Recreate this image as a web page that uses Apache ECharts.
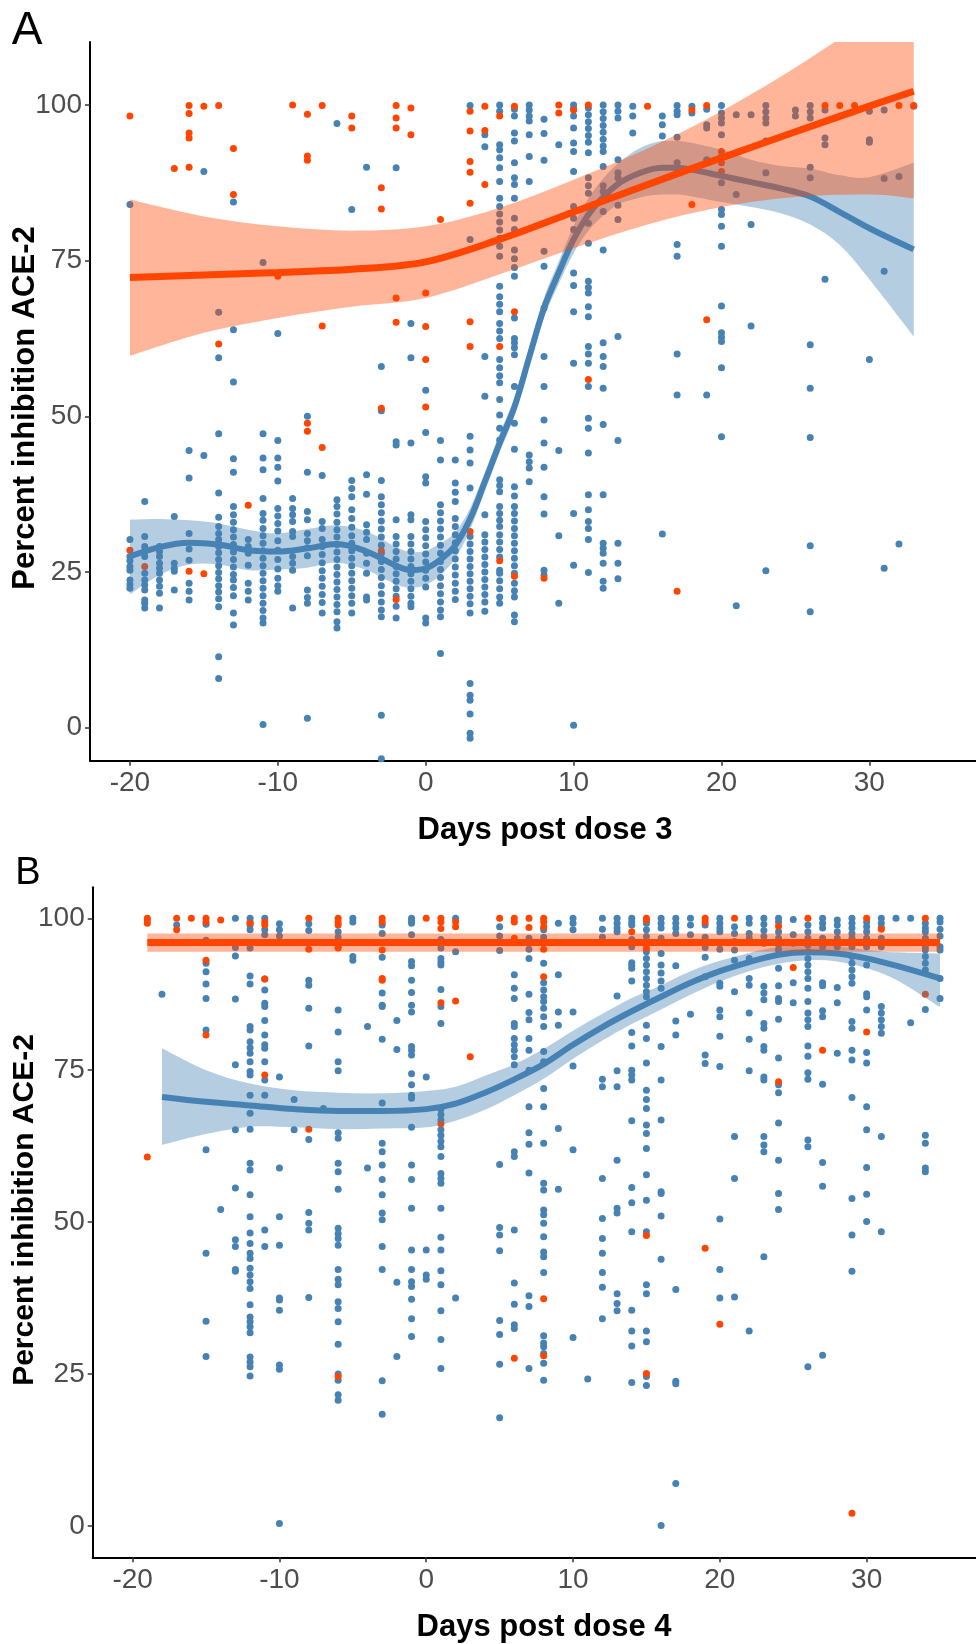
<!DOCTYPE html>
<html>
<head>
<meta charset="utf-8">
<style>
  html, body { margin: 0; padding: 0; background: #ffffff; }
  #main { width: 976px; height: 1644px; }
</style>
<script src="https://cdn.jsdelivr.net/npm/echarts@6/dist/echarts.min.js"></script>
</head>
<body>
<div id="main"></div>
<script>
// Percent inhibition of ACE-2 binding, per sampling day: [day, [values...]]
// Panel A: days relative to dose 3
const dose3Blue = [
  [-20, [84.0, 30.2, 27.5, 26.8, 25.9, 25.3, 23.7, 23.0, 22.4]],
  [-19, [36.3, 30.7, 29.1, 28.3, 27.5, 24.8, 23.7, 22.9, 22.1, 20.5, 20.0, 19.2]],
  [-18, [29.1, 28.3, 27.5, 26.4, 25.6, 24.8, 23.7, 22.7, 21.6, 19.2]],
  [-17, [33.9, 26.4, 25.6, 25.1, 22.1]],
  [-16, [44.5, 40.1, 31.2, 28.7, 26.9, 23.2, 21.9, 20.5]],
  [-15, [89.3, 43.7]],
  [-14, [66.7, 59.4, 47.2, 37.7, 33.8, 32.3, 31.2, 30.2, 29.1, 28.1, 27.0, 26.0, 24.9, 23.9, 22.8, 21.8, 20.7, 19.4, 11.4, 7.9]],
  [-13, [84.4, 63.9, 55.5, 43.2, 41.0, 35.5, 34.2, 33.0, 31.8, 30.6, 29.4, 28.2, 27.0, 25.8, 24.6, 23.7, 22.5, 21.2, 18.4, 16.5]],
  [-12, [30.2, 29.1, 28.0, 26.1, 23.2, 21.9, 20.5]],
  [-11, [74.7, 47.2, 43.3, 41.4, 36.8, 34.4, 33.3, 32.0, 30.8, 29.6, 28.4, 27.2, 26.0, 24.8, 23.6, 22.4, 21.2, 20.0, 18.8, 17.6, 16.8, 0.5]],
  [-10, [63.3, 46.1, 43.3, 41.8, 39.6, 35.2, 34.0, 32.8, 31.6, 30.0, 28.5, 27.0, 25.5, 24.0, 22.8, 21.9]],
  [-9, [36.8, 35.2, 34.2, 33.1, 31.5, 30.7, 27.5, 26.4, 25.3, 19.2]],
  [-8, [50.0, 41.0, 34.7, 33.4, 31.2, 30.0, 28.9, 27.6, 22.1, 20.9, 20.0, 1.5]],
  [-7, [40.5, 33.1, 32.0, 30.2, 29.1, 27.8, 26.5, 25.2, 24.0, 22.7, 21.4, 20.1, 18.4]],
  [-6, [97.0, 36.6, 35.5, 34.3, 33.0, 31.8, 30.6, 29.4, 28.2, 27.0, 25.8, 24.6, 23.4, 22.2, 21.0, 19.8, 18.6, 17.0, 16.0]],
  [-5, [83.2, 39.7, 38.4, 37.1, 35.0, 33.6, 32.2, 30.8, 29.6, 28.4, 27.2, 26.0, 24.8, 23.6, 22.4, 21.2, 20.0, 18.4]],
  [-4, [90.0, 40.6, 37.5, 32.6, 31.4, 30.2, 28.0, 26.4, 24.8, 21.0, 20.5]],
  [-3, [58.0, 50.9, 39.7, 37.1, 35.8, 34.5, 33.2, 31.9, 30.6, 29.3, 28.0, 26.7, 25.4, 24.1, 22.8, 21.5, 20.2, 18.9, 17.8, 2.0, -5.0]],
  [-2, [89.9, 45.9, 45.4, 33.4, 30.7, 29.5, 28.3, 27.1, 25.9, 24.7, 23.5, 22.3, 21.1, 19.5, 17.6]],
  [-1, [64.9, 59.4, 45.7, 34.2, 33.4, 30.7, 29.5, 28.3, 27.1, 25.9, 24.7, 23.5, 22.3, 21.1, 20.0, 19.4]],
  [0, [54.2, 47.4, 40.3, 39.3, 33.1, 31.8, 30.5, 29.2, 27.9, 26.6, 25.3, 24.0, 22.6, 17.6, 16.8]],
  [1, [46.1, 43.0, 35.8, 34.5, 33.2, 31.9, 30.6, 29.3, 28.0, 26.7, 25.4, 24.1, 22.8, 21.5, 20.2, 18.9, 17.8, 11.9]],
  [2, [43.0, 39.3, 37.8, 36.3, 33.6, 32.3, 31.0, 29.7, 28.4, 27.1, 25.8, 24.5, 23.2, 21.9, 20.6]],
  [3, [99.9, 78.4, 46.8, 44.6, 42.5, 38.5, 30.7, 29.5, 28.3, 27.1, 25.9, 24.7, 23.5, 22.3, 21.1, 19.9, 18.4, 7.1, 5.2, 4.4, 2.2, -0.9, -1.7]],
  [4, [95.2, 93.3, 59.6, 53.2, 34.2, 31.0, 29.8, 28.6, 27.4, 26.2, 25.0, 23.8, 22.6, 21.4, 20.2, 18.7]],
  [5, [100.0, 99.0, 93.6, 92.8, 91.5, 89.9, 87.7, 85.0, 83.7, 82.5, 81.2, 79.9, 78.6, 77.3, 75.7, 70.9, 69.2, 68.0, 66.8, 64.9, 63.7, 62.5, 59.1, 57.8, 56.5, 55.4, 52.7, 50.2, 48.1, 46.2, 39.8, 38.9, 37.9, 35.5, 34.4, 33.3, 32.3, 31.0, 29.8, 28.6, 27.4, 25.3, 24.8, 23.6, 22.3, 21.0, 20.0]],
  [6, [99.3, 98.2, 95.5, 94.2, 90.7, 88.3, 87.2, 85.0, 81.8, 80.0, 76.7, 75.3, 73.9, 72.5, 65.8, 62.5, 61.8, 61.0, 59.9, 54.8, 48.9, 44.7, 38.7, 37.2, 35.5, 34.4, 33.2, 32.0, 30.8, 29.6, 28.4, 27.2, 26.0, 24.8, 23.2, 22.0, 21.0, 18.1, 17.0]],
  [7, [100.0, 99.2, 98.2, 97.4, 95.2, 91.7, 87.7, 43.8, 42.7, 41.7, 39.5]],
  [8, [97.7, 95.4, 91.1, 76.5, 74.1, 67.4, 59.6, 54.8, 49.4, 45.7, 41.8, 37.1, 34.3, 25.3, 24.5]],
  [9, [93.6, 44.5, 30.8, 20.0]],
  [10, [100.0, 99.4, 98.2, 96.3, 93.9, 92.5, 89.3, 83.7, 81.8, 80.0, 73.0, 71.0, 66.8, 58.5, 34.4, 26.1, 0.4]],
  [11, [99.5, 98.4, 97.3, 96.2, 95.1, 94.0, 92.3, 88.3, 87.0, 85.8, 81.0, 77.8, 71.7, 70.7, 69.8, 67.6, 66.0, 61.2, 60.0, 58.5, 54.8, 49.7, 48.1, 44.1, 37.4, 35.0, 33.1, 32.0, 30.2, 24.9]],
  [12, [100.0, 98.9, 97.8, 96.7, 95.6, 94.5, 93.4, 92.5, 90.1, 87.0, 86.1, 82.9, 76.7, 61.8, 59.6, 58.0, 54.5, 48.7, 37.4, 29.6, 28.8, 28.0, 26.4, 23.5, 22.4]],
  [13, [100.0, 99.0, 97.9, 91.2, 89.1, 88.3, 83.9, 81.6, 62.8, 46.1, 29.6, 26.4, 23.9]],
  [14, [99.8, 98.2, 95.5]],
  [16, [98.2, 96.8, 95.0, 31.1]],
  [17, [99.9, 99.0, 98.4, 94.8, 90.7, 89.6, 77.6, 75.7, 60.0, 53.4]],
  [18, [99.8, 98.7]],
  [19, [99.3, 96.8, 96.3, 91.2, 53.4]],
  [20, [99.9, 98.7, 97.9, 97.1, 95.2, 87.5, 83.2, 82.4, 80.5, 77.3, 67.7, 63.4, 62.7, 62.0, 57.8, 46.7]],
  [21, [98.4, 85.6, 19.6]],
  [22, [98.4, 80.8, 64.5]],
  [23, [99.9, 98.9, 97.9, 97.1, 94.2, 89.1, 25.2]],
  [25, [99.2, 98.2]],
  [26, [99.9, 98.9, 97.9, 90.0, 88.3, 61.5, 54.5, 46.6, 29.2, 18.6]],
  [27, [99.2, 94.7, 93.6, 72.0]],
  [30, [99.0, 94.4, 94.0, 59.1]],
  [31, [99.2, 88.2, 73.3, 25.6]],
  [32, [88.5, 29.5]],
  [33, [99.8]]
];

const dose3Orange = [
  [-20, [98.2, 28.5]],
  [-19, [25.9]],
  [-17, [89.8]],
  [-16, [99.9, 98.6, 95.5, 94.7, 90.0, 25.1]],
  [-15, [99.8, 24.7]],
  [-14, [99.9, 61.6]],
  [-13, [93.0, 85.6]],
  [-12, [35.7]],
  [-10, [72.5]],
  [-9, [100.0]],
  [-8, [98.5, 91.8, 91.1, 48.9, 47.6]],
  [-7, [99.9, 64.5, 45.0]],
  [-5, [98.2, 96.3]],
  [-3, [86.7, 83.3, 51.3, 28.4]],
  [-2, [99.9, 97.9, 96.3, 69.0, 65.1, 20.6]],
  [-1, [99.5, 95.2]],
  [0, [69.8, 64.4, 59.1, 51.5]],
  [1, [81.6]],
  [3, [99.0, 95.8, 90.9, 89.2, 84.2, 65.2, 61.2, 31.5]],
  [4, [99.8, 95.9, 87.2]],
  [5, [98.2, 61.2, 26.8]],
  [6, [99.8, 66.8, 24.3]],
  [8, [24.0]],
  [9, [100.0, 98.7]],
  [10, [99.2]],
  [11, [100.0, 55.9]],
  [15, [99.8]],
  [17, [21.9]],
  [18, [99.2, 84.0]],
  [19, [99.9, 65.5]],
  [20, [92.5, 91.7, 90.7, 89.3]],
  [27, [99.9]],
  [28, [99.9]],
  [29, [99.9]],
  [32, [99.9]],
  [33, [99.9]]
];

// Panel B: days relative to dose 4
const dose4Blue = [
  [-18, [87.5]],
  [-17, [98.9]],
  [-15, [99.0, 96.4, 92.6, 91.2, 89.2, 86.8, 81.6, 61.9, 44.9, 33.7, 27.9]],
  [-14, [52.1]],
  [-13, [100.0, 95.2, 93.8, 86.7, 75.9, 65.2, 55.6, 47.1, 46.0, 42.2, 41.9]],
  [-12, [100.0, 99.4, 98.9, 98.1, 95.1, 90.5, 89.2, 82.2, 81.6, 79.7, 78.7, 77.8, 76.4, 74.8, 74.2, 70.9, 67.9, 65.3, 59.7, 58.6, 54.5, 50.9, 48.2, 46.5, 44.9, 44.0, 42.4, 41.3, 40.2, 39.1, 36.4, 34.4, 33.6, 32.8, 31.8, 27.8, 27.0, 26.2, 24.7]],
  [-11, [100.0, 98.1, 97.3, 90.0, 88.2, 86.0, 85.5, 83.2, 80.8, 79.2, 78.6, 76.4, 73.4, 70.9, 48.7, 46.0]],
  [-10, [99.1, 98.1, 97.1, 73.9, 58.9, 50.9, 46.2, 37.5, 37.2, 35.5, 26.5, 25.8, 0.4]],
  [-9, [70.2, 65.2]],
  [-8, [99.1, 98.0, 89.8, 89.0, 85.2, 79.0, 63.6, 51.6, 49.8, 48.7, 37.6]],
  [-7, [68.7]],
  [-6, [97.8, 96.9, 95.3, 84.9, 81.3, 76.4, 74.9, 64.7, 63.8, 59.7, 58.3, 55.4, 49.0, 48.1, 47.3, 46.2, 42.2, 40.6, 39.7, 36.9, 35.8, 33.6, 29.9, 25.0, 24.0, 21.6, 20.7]],
  [-5, [100.0, 99.4, 93.7, 93.1]],
  [-4, [82.2, 58.9]],
  [-3, [98.9, 97.5, 93.6, 87.7, 85.7, 85.5, 80.1, 69.6, 63.0, 61.6, 59.4, 57.0, 54.5, 51.5, 50.4, 46.0, 42.2, 23.9, 18.4]],
  [-2, [83.2, 78.4, 40.1, 27.9]],
  [-1, [100.0, 99.6, 99.2, 97.3, 92.9, 92.2, 89.8, 87.8, 85.7, 84.6, 78.9, 78.3, 77.5, 74.4, 72.6, 70.9, 70.4, 65.6, 59.4, 57.0, 52.3, 45.4, 42.2, 40.2, 39.4, 37.3, 34.1, 31.2]],
  [0, [73.9, 45.4, 41.3, 40.6]],
  [1, [96.5, 95.1, 93.4, 92.8, 92.3, 88.3, 85.5, 82.7, 68.6, 67.7, 66.8, 65.2, 64.3, 63.3, 62.4, 60.8, 58.0, 57.2, 56.4, 52.3, 47.5, 45.4, 42.0, 39.7, 35.4, 30.7, 25.9]],
  [2, [100.0, 94.5, 37.5]],
  [5, [98.6, 97.1, 94.7, 59.5, 49.1, 47.9, 45.3, 33.8, 31.5, 26.6, 17.8]],
  [6, [90.7, 88.5, 86.8, 82.7, 82.2, 80.2, 79.2, 78.3, 77.2, 75.9, 61.6, 60.8, 48.7, 40.0, 36.5, 33.1, 32.5]],
  [7, [96.7, 94.9, 93.4, 87.5, 84.5, 83.3, 80.2, 78.3, 75.0, 69.0, 64.7, 62.8, 58.1, 37.9, 36.1, 25.9]],
  [8, [98.1, 96.9, 92.6, 89.4, 88.2, 87.1, 86.3, 85.2, 83.8, 82.2, 78.1, 76.4, 72.0, 69.0, 63.0, 56.4, 55.3, 52.0, 51.2, 49.8, 47.6, 45.1, 44.3, 41.7, 31.3, 30.1, 29.5, 28.4, 26.8, 24.0]],
  [9, [99.2, 90.7, 84.6, 82.4, 65.4, 55.4]],
  [10, [100.0, 99.2, 98.1, 84.6, 75.7, 61.9, 31.0]],
  [11, [24.2]],
  [12, [100.0, 98.2, 96.9, 73.5, 72.3, 57.2, 50.6, 47.3, 44.9, 41.7, 39.3, 34.1]],
  [13, [100.0, 99.2, 98.4, 97.8, 87.2, 74.9, 72.3, 60.2, 52.3, 51.5, 38.2, 36.6, 35.4]],
  [14, [100.0, 99.4, 98.9, 96.5, 95.3, 92.7, 92.2, 91.8, 89.7, 81.2, 79.0, 75.0, 74.2, 73.4, 66.7, 55.7, 53.2, 48.4, 35.5, 32.1, 29.6, 23.6]],
  [15, [99.2, 98.1, 97.0, 95.9, 94.5, 93.4, 92.3, 91.2, 90.1, 89.0, 87.9, 87.1, 82.4, 80.2, 76.2, 71.7, 70.2, 68.7, 66.0, 64.6, 62.1, 57.8, 53.6, 48.4, 39.7, 38.2, 32.1, 30.3, 24.6, 23.1]],
  [16, [100.0, 99.2, 98.4, 96.7, 94.2, 92.3, 91.0, 89.7, 88.5, 78.9, 73.4, 66.8, 55.0, 54.7, 51.0, 43.9, 0.1]],
  [17, [100.0, 99.2, 98.4, 97.5, 92.2, 83.1, 80.8, 38.9, 23.8, 23.4, 7.0]],
  [18, [100.0, 98.9, 97.3, 84.2]],
  [19, [98.9, 96.9, 95.2, 93.6, 90.4, 77.5, 76.1]],
  [20, [100.0, 99.2, 98.4, 97.8, 94.9, 89.3, 88.8, 84.9, 83.8, 80.6, 75.6, 50.5, 42.2, 37.5]],
  [21, [98.6, 97.5, 96.2, 94.8, 93.1, 87.9, 64.1, 57.2, 37.7]],
  [22, [100.0, 99.2, 97.5, 96.7, 93.4, 90.1, 89.0, 84.4, 80.1, 74.9, 32.1]],
  [23, [100.0, 99.0, 98.0, 97.0, 95.9, 88.8, 87.7, 86.6, 82.7, 81.9, 78.9, 78.3, 73.9, 73.4, 64.1, 62.7, 61.6, 44.3]],
  [24, [100.0, 99.4, 97.8, 96.7, 95.6, 94.8, 91.8, 88.9, 86.8, 86.3, 83.4, 77.0, 72.6, 71.3, 66.3, 60.2, 54.7, 52.1]],
  [25, [99.8, 97.3, 95.9, 89.4, 86.1]],
  [26, [98.9, 97.8, 96.7, 95.6, 94.5, 93.4, 92.3, 91.2, 90.1, 88.5, 86.3, 84.4, 83.3, 82.2, 79.0, 77.3, 74.6, 73.5, 63.5, 62.4, 26.2]],
  [27, [100.0, 99.2, 98.4, 96.7, 95.3, 89.4, 88.9, 84.8, 83.8, 72.7, 59.8, 55.9, 28.1]],
  [28, [99.7, 98.9, 97.8, 96.7, 95.3, 88.6, 86.1, 77.8]],
  [29, [100.0, 99.2, 98.4, 97.5, 96.7, 95.3, 93.7, 92.6, 91.5, 90.4, 89.3, 83.0, 81.9, 78.3, 76.7, 70.5, 53.9, 47.9, 41.9]],
  [30, [99.4, 98.6, 97.8, 96.7, 95.3, 92.3, 87.6, 87.1, 84.9, 77.9, 76.2, 69.0, 65.2, 59.0, 54.6, 50.1]],
  [31, [100.0, 99.2, 98.5, 96.7, 95.3, 85.5, 84.4, 83.3, 82.2, 81.1, 64.1, 48.4]],
  [32, [100.0]],
  [33, [100.0, 82.8]],
  [34, [99.2, 98.4, 97.8, 96.7, 95.3, 94.8, 93.7, 92.6, 91.5, 85.0, 64.3, 63.0, 58.9, 58.3]],
  [35, [100.0, 99.4, 98.2, 97.1, 95.3, 94.8, 90.1, 86.8]]
];

const dose4Orange = [
  [-19, [100.0, 99.7, 99.2, 60.7]],
  [-17, [100.0, 98.1]],
  [-16, [100.0]],
  [-15, [100.0, 99.4, 93.1, 80.8]],
  [-14, [99.7]],
  [-12, [99.2]],
  [-11, [99.4, 98.9, 90.0, 74.2]],
  [-8, [100.0, 94.9, 65.3]],
  [-6, [100.0, 99.4, 98.9, 95.1, 24.6]],
  [-3, [100.0, 99.4, 94.8, 90.1, 89.8]],
  [0, [100.0]],
  [1, [100.0, 99.4, 98.3, 86.1, 66.2]],
  [2, [99.4, 98.6, 86.4]],
  [3, [77.2]],
  [5, [100.0]],
  [6, [100.0, 99.4, 96.7, 27.6]],
  [7, [100.0, 98.5]],
  [8, [100.0, 99.4, 98.6, 94.9, 90.4, 37.4, 28.0]],
  [14, [97.8]],
  [15, [100.0, 99.7, 95.1, 47.8, 25.1]],
  [19, [100.0, 99.4, 45.7]],
  [20, [33.2]],
  [21, [100.0]],
  [24, [98.7, 73.1]],
  [25, [91.9]],
  [26, [100.0]],
  [27, [78.3]],
  [29, [2.1]],
  [30, [100.0, 81.3]],
  [31, [98.2]],
  [34, [100.0, 87.5]]
];

// Smoothed trends with confidence bands
const dose3BlueFitDays = [-20, -18, -16, -14, -12, -10, -8, -6, -4, -2, -1, 0, 1, 2, 3, 4, 5, 6, 7, 8, 9, 10, 11, 12, 13, 14, 15, 16, 17, 18, 20, 22, 24, 26, 28, 30, 33];
const dose3BlueFit  = [27.5, 29.0, 29.7, 29.4, 28.5, 28.3, 28.8, 29.5, 28.3, 26.0, 25.3, 25.6, 27.0, 29.3, 33.5, 39.5, 45.7, 51.5, 59.5, 67.4, 73.1, 78.4, 82.4, 85.2, 87.3, 88.6, 89.5, 89.9, 89.9, 89.6, 88.6, 87.6, 86.6, 85.3, 82.8, 80.2, 76.8];
const dose3BlueHigh = [33.4, 33.5, 33.3, 32.8, 31.8, 31.2, 31.9, 32.5, 31.5, 29.0, 28.2, 28.4, 29.6, 31.4, 35.2, 41.0, 47.2, 53.0, 61.0, 69.0, 74.9, 80.6, 85.0, 88.2, 90.6, 92.4, 93.6, 94.2, 94.2, 93.9, 92.8, 91.2, 90.2, 89.8, 88.7, 88.4, 90.7];
const dose3BlueLow  = [21.4, 24.5, 26.2, 26.2, 25.3, 25.4, 25.7, 26.5, 25.3, 23.0, 22.5, 22.9, 24.5, 27.2, 31.8, 38.0, 44.2, 50.0, 58.0, 65.8, 71.3, 76.2, 79.8, 82.2, 84.0, 84.8, 85.4, 85.6, 85.6, 85.3, 84.4, 83.6, 82.6, 80.8, 77.5, 72.0, 62.8];

const dose3OrangeFitDays = [-20, -15, -10, -5, 0, 5, 10, 15, 20, 25, 30, 33];
const dose3OrangeFit  = [72.3, 72.7, 73.1, 73.6, 74.8, 78.4, 82.8, 87.2, 91.5, 95.7, 99.8, 102.2];
const dose3OrangeHigh = [84.8, 82.1, 80.5, 79.8, 80.5, 83.5, 88.0, 93.0, 99.0, 106.0, 114.0, 120.0];
const dose3OrangeLow  = [59.7, 63.4, 65.8, 67.6, 69.0, 72.8, 77.0, 80.8, 83.6, 85.2, 85.6, 85.0];

const dose4BlueFitDays = [-18, -15, -12, -9, -6, -3, 0, 2, 4, 6, 8, 10, 12, 14, 16, 18, 20, 22, 24, 26, 28, 30, 32, 35];
const dose4BlueFit  = [70.6, 69.8, 69.2, 68.6, 68.3, 68.3, 68.6, 69.5, 71.3, 73.5, 76.0, 79.2, 82.1, 84.7, 87.1, 89.4, 91.3, 92.8, 94.0, 94.4, 94.2, 93.4, 92.2, 90.1];
const dose4BlueHigh = [78.6, 75.0, 72.8, 71.7, 71.3, 71.2, 71.6, 72.3, 74.1, 76.0, 78.5, 81.5, 84.3, 86.9, 89.0, 91.3, 93.0, 94.3, 95.3, 95.6, 95.4, 94.8, 94.4, 94.2];
const dose4BlueLow  = [62.7, 64.5, 65.7, 65.6, 65.3, 65.4, 65.6, 66.7, 68.5, 70.9, 73.6, 76.9, 79.9, 82.6, 85.0, 87.4, 89.6, 91.3, 92.5, 93.1, 92.9, 91.8, 89.9, 85.4];

const dose4OrangeFitDays = [-19, 0, 20, 35];
const dose4OrangeFit  = [96.0, 96.0, 96.0, 96.0];
const dose4OrangeHigh = [97.5, 97.5, 97.5, 97.5];
const dose4OrangeLow  = [94.5, 94.5, 94.5, 94.5];

// Tick labels
const xTicks = [-20, -10, 0, 10, 20, 30];
const yTicks = [0, 25, 50, 75, 100];

const BLUE = '#4682B4';
const ORANGE = '#FF4500';
const BLUE_FILL = 'rgba(70,130,180,0.4)';
const ORANGE_FILL = 'rgba(255,69,0,0.4)';
const FONT = '"Liberation Sans", Arial, Helvetica, sans-serif';

function points(columns) {
  return columns.flatMap(([day, vals]) => vals.map(v => [day, v]));
}

function scatterSeries(idx, columns, color, z) {
  return {
    type: 'scatter', xAxisIndex: idx, yAxisIndex: idx,
    data: points(columns), symbol: 'circle', symbolSize: 7,
    itemStyle: { color: color, opacity: 1 },
    z: z, silent: true, animation: false
  };
}

// Catmull-Rom curve through projected pixel points, as cubic bezier path segments
function curveThrough(pts) {
  let d = '';
  for (let i = 0; i < pts.length - 1; i++) {
    const p0 = pts[Math.max(i - 1, 0)], p1 = pts[i], p2 = pts[i + 1], p3 = pts[Math.min(i + 2, pts.length - 1)];
    const c1 = [p1[0] + (p2[0] - p0[0]) / 6, p1[1] + (p2[1] - p0[1]) / 6];
    const c2 = [p2[0] - (p3[0] - p1[0]) / 6, p2[1] - (p3[1] - p1[1]) / 6];
    d += ' C ' + c1[0] + ' ' + c1[1] + ' ' + c2[0] + ' ' + c2[1] + ' ' + p2[0] + ' ' + p2[1];
  }
  return d;
}

// Confidence ribbon between the lower and upper bound, drawn as one filled path
function bandSeries(idx, xs, lo, hi, fill, z) {
  return {
    type: 'custom', xAxisIndex: idx, yAxisIndex: idx,
    data: xs.map((x, i) => [x, lo[i], hi[i]]),
    encode: { x: 0, y: [1, 2] },
    clip: true, silent: true, animation: false, z: z,
    renderItem: function (params, api) {
      if (params.dataIndex !== 0) return null;
      const up = xs.map((x, i) => api.coord([x, hi[i]]));
      const dn = xs.map((x, i) => api.coord([x, lo[i]])).reverse();
      const d = 'M ' + up[0][0] + ' ' + up[0][1] + curveThrough(up) +
                ' L ' + dn[0][0] + ' ' + dn[0][1] + curveThrough(dn) + ' Z';
      return { type: 'path', shape: { pathData: d }, style: { fill: fill, stroke: null } };
    }
  };
}

function fitSeries(idx, xs, fit, color, width, z) {
  return {
    type: 'line', xAxisIndex: idx, yAxisIndex: idx,
    data: xs.map((x, i) => [x, fit[i]]), symbol: 'none', smooth: 0.35,
    lineStyle: { color: color, width: width, cap: 'butt' },
    z: z, silent: true, animation: false
  };
}

function xAxisFor(idx, min, max) {
  return {
    type: 'value', gridIndex: idx, min: min, max: max,
    axisLine: { show: true, onZero: false, lineStyle: { color: '#000', width: 2 } },
    axisTick: { show: true, customValues: xTicks, length: 5, lineStyle: { color: '#333', width: 1.5 } },
    axisLabel: { customValues: xTicks, fontFamily: FONT, fontSize: 28, color: '#4D4D4D', margin: 9 },
    splitLine: { show: false }
  };
}
function yAxisFor(idx, min, max) {
  return {
    type: 'value', gridIndex: idx, min: min, max: max,
    axisLine: { show: true, onZero: false, lineStyle: { color: '#000', width: 2 } },
    axisTick: { show: true, customValues: yTicks, length: 5, lineStyle: { color: '#333', width: 1.5 } },
    axisLabel: { customValues: yTicks, fontFamily: FONT, fontSize: 28, color: '#4D4D4D', margin: 8 },
    splitLine: { show: false }
  };
}

function label(text, x, y, size, weight, rotation) {
  return {
    type: 'text', x: x, y: y, rotation: rotation || 0, silent: true,
    style: {
      text: text, fontFamily: FONT, fontSize: size, fontWeight: weight,
      fill: '#000', align: 'center', verticalAlign: 'middle'
    }
  };
}

const chart = echarts.init(document.getElementById('main'), null, { renderer: 'canvas' });

chart.setOption({
  animation: false,
  backgroundColor: '#ffffff',
  grid: [
    { left: 90, top: 42, width: 886, height: 718.7 },
    { left: 92.7, top: 887.3, width: 883.3, height: 670 }
  ],
  xAxis: [xAxisFor(0, -22.7, 37.21), xAxisFor(1, -22.72, 37.45)],
  yAxis: [yAxisFor(0, -5.3, 110.1), yAxisFor(1, -5.15, 105.1)],
  series: [
    scatterSeries(0, dose3Blue, BLUE, 2),
    scatterSeries(0, dose3Orange, ORANGE, 2),
    bandSeries(0, dose3BlueFitDays, dose3BlueLow, dose3BlueHigh, BLUE_FILL, 3),
    fitSeries(0, dose3BlueFitDays, dose3BlueFit, BLUE, 6, 4),
    bandSeries(0, dose3OrangeFitDays, dose3OrangeLow, dose3OrangeHigh, ORANGE_FILL, 5),
    fitSeries(0, dose3OrangeFitDays, dose3OrangeFit, ORANGE, 7, 6),
    scatterSeries(1, dose4Blue, BLUE, 2),
    scatterSeries(1, dose4Orange, ORANGE, 2),
    bandSeries(1, dose4BlueFitDays, dose4BlueLow, dose4BlueHigh, BLUE_FILL, 3),
    fitSeries(1, dose4BlueFitDays, dose4BlueFit, BLUE, 6, 4),
    bandSeries(1, dose4OrangeFitDays, dose4OrangeLow, dose4OrangeHigh, ORANGE_FILL, 5),
    fitSeries(1, dose4OrangeFitDays, dose4OrangeFit, ORANGE, 7, 6)
  ],
  graphic: [
    label('A', 27, 31, 46, 'normal'),
    label('B', 28, 874, 38, 'normal'),
    label('Days post dose 3', 545, 830, 31, 'bold'),
    label('Days post dose 4', 544, 1627, 31, 'bold'),
    label('Percent inhibition ACE-2', 25, 408, 31, 'bold', Math.PI / 2),
    label('Percent inhibition ACE-2', 25, 1210, 30, 'bold', Math.PI / 2)
  ]
});
</script>
</body>
</html>
